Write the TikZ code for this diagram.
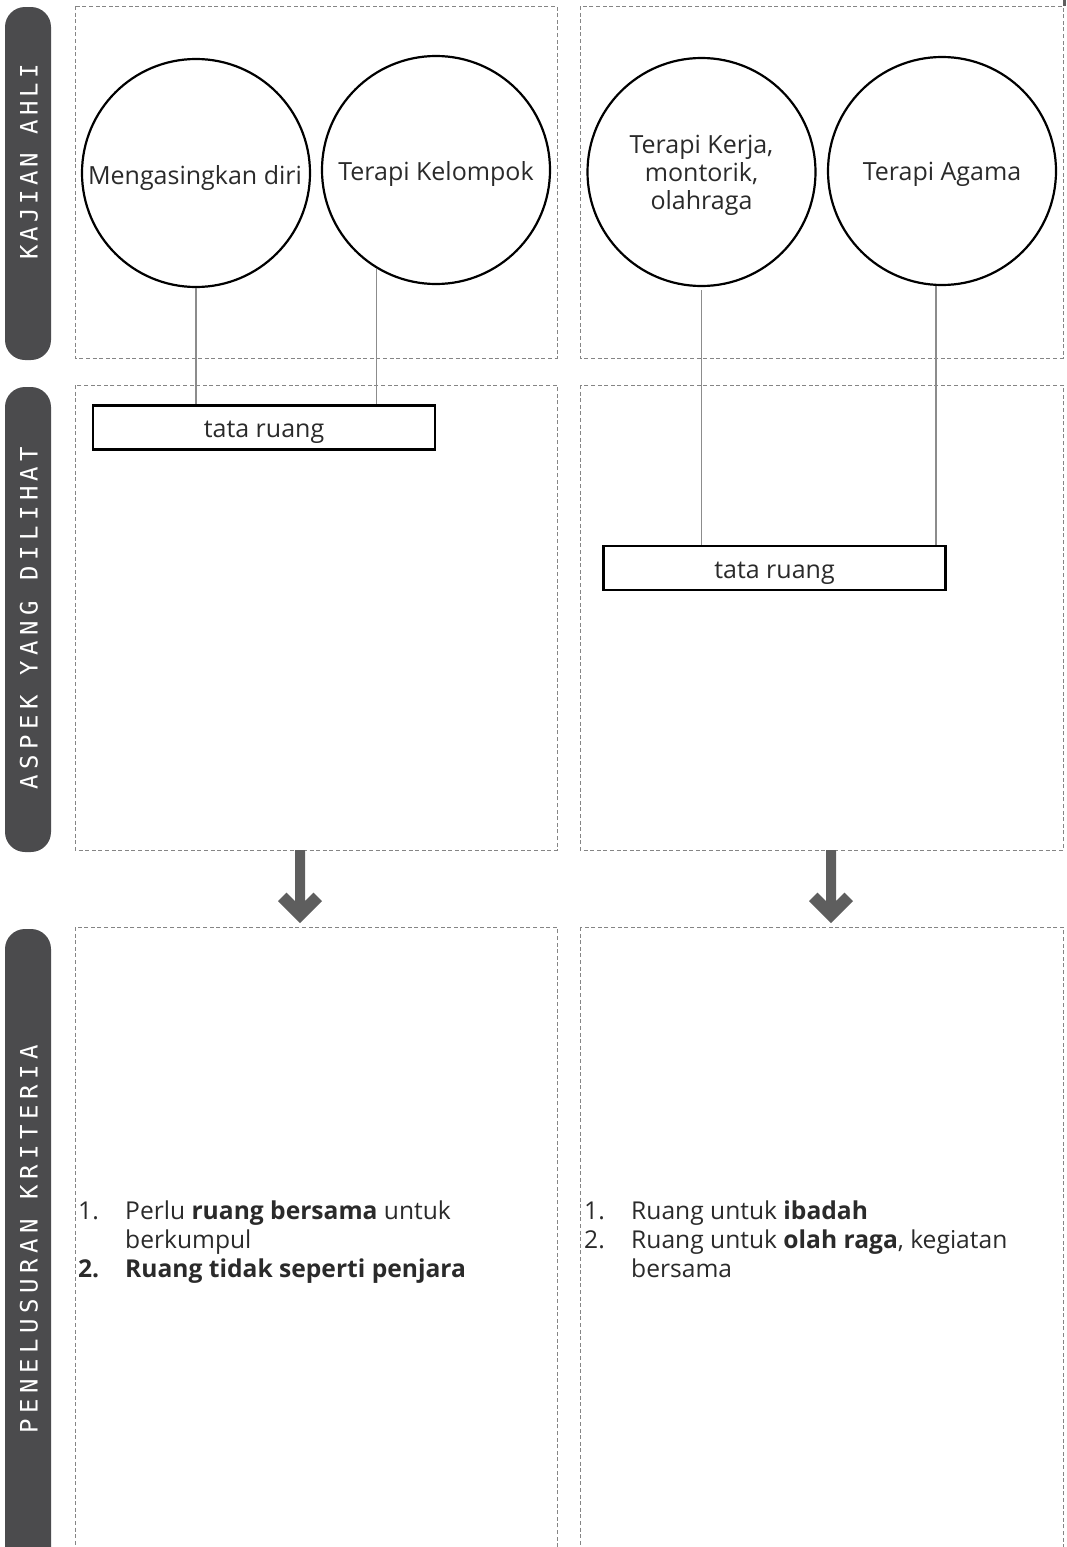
\documentclass[tikz,border=0pt]{standalone}
\usepackage{fontspec}
\setmainfont{Open Sans}
\newfontfamily\labelfont[LetterSpace=17]{DejaVu Sans Mono}
\newfontfamily\widelabelfont[LetterSpace=23]{DejaVu Sans Mono}
\usetikzlibrary{calc}

\definecolor{barGray}{HTML}{4B4B4D}
\definecolor{arrowGray}{HTML}{5E5E5E}
\definecolor{panelGray}{HTML}{858585}
\definecolor{linkGray}{HTML}{8C8C8C}
\definecolor{txt}{HTML}{2A2A2A}

\newcommand\bodyfont{\fontsize{25}{28}\selectfont}
\newcommand\listfont{\fontsize{24.6}{28}\selectfont}

\tikzset{
  panel/.style={draw=panelGray, line width=0.9pt, dash pattern=on 4pt off 2.6pt},
  sidebar/.style={fill=barGray, rounded corners=20pt},
  barlabel/.style={rotate=90, text=white, inner sep=0pt,
    font=\labelfont\fontsize{24}{24}\selectfont},
  widebarlabel/.style={barlabel, font=\widelabelfont\fontsize{24}{24}\selectfont},
  blob/.style={circle, draw=black, line width=2.2pt, minimum size=228pt,
    inner sep=0pt},
  blobtext/.style={align=center, inner sep=0pt, font=\bodyfont, text=txt},
  link/.style={draw=linkGray, line width=1.2pt},
  tagbox/.style={draw=black, line width=2.6pt, minimum width=342pt,
    minimum height=44pt, inner sep=0pt},
  tagtext/.style={inner sep=0pt, font=\bodyfont, text=txt},
  item/.style={anchor=base west, inner sep=0pt, font=\listfont, text=txt},
  downarrow/.style={fill=arrowGray},
}

\begin{document}
\begin{tikzpicture}[x=1pt, y=-1pt]
  \useasboundingbox (0,0) rectangle (1066,1547);
  \clip (0,0) rectangle (1066,1547);

  % side bars with their headings
  \fill[sidebar] (5,7) rectangle (51,360);
  \fill[sidebar] (5,387) rectangle (51,852);
  \fill[sidebar] (5,929) rectangle (51,1600);
  \node[barlabel] (lab1) at (29,162) {KAJIAN AHLI};
  \node[widebarlabel] (lab2) at (29,618) {ASPEK YANG DILIHAT};
  \node[widebarlabel] (lab3) at (29,1239) {PENELUSURAN KRITERIA};

  % dashed panels
  \draw[panel] (75,6) rectangle (557,358);
  \draw[panel] (580,6) rectangle (1063,358);
  \draw[panel] (75,385) rectangle (557,850);
  \draw[panel] (580,385) rectangle (1063,850);
  \draw[panel] (75,927) rectangle (557,1600);
  \draw[panel] (580,927) rectangle (1063,1600);
  \fill[arrowGray] (1062.5,0) rectangle (1066,6);

  % expert topics
  \node[blob] (c1) at (196,173) {};
  \node[blob] (c2) at (436,170) {};
  \node[blob] (c3) at (701.5,172) {};
  \node[blob] (c4) at (942,171) {};
  \node[blobtext] (c1t) at ($(c1)+(-1,5)$) {Mengasingkan diri};
  \node[blobtext] (c2t) at ($(c2)+(0,4)$) {Terapi Kelompok};
  \node[blobtext] (c3t) at ($(c3)+(0,3)$) {Terapi Kerja,\\montorik,\\olahraga};
  \node[blobtext] (c4t) at ($(c4)+(0,3)$) {Terapi Agama};

  % aspects
  \node[tagbox] (t1) at (264,427.5) {};
  \node[tagbox] (t2) at (774.5,568) {};
  \node[tagtext] (t1t) at ($(t1)+(0,5)$) {tata ruang};
  \node[tagtext] (t2t) at ($(t2)+(0,5)$) {tata ruang};

  % links from topics to aspects
  \draw[link] (c1.south) -- (c1.south |- t1.north);
  \draw[link] (c2.239) -- (c2.239 |- t1.north);
  \draw[link] ($(c3.south)+(0,3)$) -- (c3.south |- t2.north);
  \draw[link] (c4.267) -- (c4.267 |- t2.north);

  % down arrows between rows
  \foreach \ax/\nm in {300/a1, 831/a2}{
    \coordinate (\nm) at (\ax,850);
    \fill[downarrow] ($(\nm)+(-5,0)$) -- ($(\nm)+(-5,51)$)
      -- ($(\nm)+(-13.5,42.5)$) -- ($(\nm)+(-22,51)$)
      -- ($(\nm)+(0,73)$) -- ($(\nm)+(22,51)$)
      -- ($(\nm)+(13.5,42.5)$) -- ($(\nm)+(5,51)$)
      -- ($(\nm)+(5,0)$) -- cycle;
  }

  % criteria, left column
  \node[item] (n11) at (78,1219) {1.};
  \node[item] (p11) at (125,1219) {Perlu \textbf{ruang bersama} untuk};
  \node[item] (p12) at (125,1248) {berkumpul};
  \node[item] (n12) at (78,1277) {\textbf{2.}};
  \node[item] (p13) at (125,1277) {\textbf{Ruang tidak seperti penjara}};

  % criteria, right column
  \node[item] (n21) at (584,1219) {1.};
  \node[item] (p21) at (631,1219) {Ruang untuk \textbf{ibadah}};
  \node[item] (n22) at (584,1248) {2.};
  \node[item] (p22) at (631,1248) {Ruang untuk \textbf{olah raga}, kegiatan};
  \node[item] (p23) at (631,1277) {bersama};
\end{tikzpicture}
\end{document}
